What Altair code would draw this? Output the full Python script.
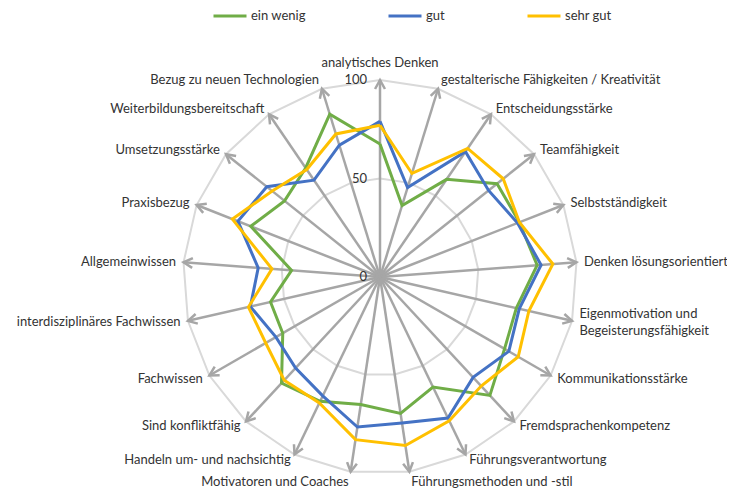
import altair as alt
import pandas as pd

categories = [
    "analytisches Denken",
    "gestalterische Fähigkeiten / Kreativität",
    "Entscheidungsstärke",
    "Teamfähigkeit",
    "Selbstständigkeit",
    "Denken lösungsorientiert",
    "Eigenmotivation und Begeisterungsfähigkeit",
    "Kommunikationsstärke",
    "Fremdsprachenkompetenz",
    "Führungsverantwortung",
    "Führungsmethoden und -stil",
    "Motivatoren und Coaches",
    "Handeln um- und nachsichtig",
    "Sind konfliktfähig",
    "Fachwissen",
    "interdisziplinäres Fachwissen",
    "Allgemeinwissen",
    "Praxisbezug",
    "Umsetzungsstärke",
    "Weiterbildungsbereitschaft",
    "Bezug zu neuen Technologien",
]
ein_wenig = [67.5, 38, 60, 76, 76, 80, 71, 73, 82, 62, 70, 65.5, 70, 73.5, 57, 57, 45, 70.5, 62, 67, 86.5]
gut = [79, 47.5, 77, 70.5, 75, 82, 72.5, 75.5, 69.5, 79.5, 75, 77, 67, 63, 61, 67.5, 62, 77.5, 73.5, 59.5, 70]
sehr_gut = [77, 55, 79, 80, 76, 88, 77.5, 81, 75.5, 81, 86.5, 83.5, 71, 71.5, 67, 68.5, 55, 80.5, 70, 66, 76]

series_names = ["ein wenig", "gut", "sehr gut"]
series_colors = ["#70AD47", "#4472C4", "#FFC000"]
ring_levels = [50, 100]
tick_values = [0, 50, 100]
max_value = 100

n = len(categories)

# --- layout of the plot area (pixels) ---
W, H = 719, 482
CX, CY = 372, 269          # centre of the radar in plot coords
R = 197                    # pixels for max_value
K = R / max_value          # pixels per data unit
x_dom = [-CX / K, (W - CX) / K]
y_dom = [-(H - CY) / K, CY / K]

xs = alt.Scale(domain=x_dom, nice=False, zero=False)
ys = alt.Scale(domain=y_dom, nice=False, zero=False)
FONT = "Lato"
FS = 13
TXT = "#333333"

def X(f):
    return alt.X(f, type="quantitative", scale=xs, axis=None)

def Y(f):
    return alt.Y(f, type="quantitative", scale=ys, axis=None)

ang_expr = f"datum.idx * 2 * PI / {n}"

# series table
rows = []
for name, vals in zip(series_names, [ein_wenig, gut, sehr_gut]):
    for i in range(n + 1):
        rows.append({"series": name, "idx": i, "value": vals[i % n]})
series_df = pd.DataFrame(rows)

ring_rows = []
for lv in ring_levels:
    for i in range(n + 1):
        ring_rows.append({"level": lv, "idx": i})
ring_df = pd.DataFrame(ring_rows)

spoke_df = pd.DataFrame({"idx": list(range(n)), "category": categories})
label_df = pd.DataFrame({
    "idx": list(range(n)),
    "label": [c.replace("und Begeisterungs", "und\nBegeisterungs") for c in categories],
})
tick_df = pd.DataFrame({"value": tick_values, "text": [str(v) for v in tick_values]})

rings = alt.Chart(ring_df).transform_calculate(
    ang=ang_expr,
    x="datum.level * sin(datum.ang)",
    y="datum.level * cos(datum.ang)",
).mark_line(color="#D9D9D9", strokeWidth=2).encode(
    x=X("x"), y=Y("y"), detail="level:N", order="idx:Q"
)

spokes = alt.Chart(spoke_df).transform_calculate(
    ang=ang_expr,
    zero="0",
    x=f"{max_value} * sin(datum.ang)",
    y=f"{max_value} * cos(datum.ang)",
).mark_rule(color="#A6A6A6", strokeWidth=2.5).encode(
    x=X("zero"), y=Y("zero"), x2="x:Q", y2="y:Q"
)

heads = alt.Chart(spoke_df).transform_calculate(
    ang=ang_expr,
    deg=f"datum.idx * 360 / {n}",
    x=f"{max_value} * sin(datum.ang)",
    y=f"{max_value} * cos(datum.ang)",
).mark_point(
    shape="M-0.55,1L0,0L0.55,1", filled=False, stroke="#A6A6A6",
    strokeWidth=2.5, size=324, opacity=1,
).encode(
    x=X("x"), y=Y("y"), angle=alt.Angle("deg:Q", scale=None)
)

color = alt.Color(
    "series:N",
    scale=alt.Scale(domain=series_names, range=series_colors),
    legend=alt.Legend(
        orient="none", legendX=204, legendY=-10, direction="horizontal",
        title=None, symbolType="stroke", symbolSize=1089, symbolStrokeWidth=3,
        labelFont=FONT, labelFontSize=FS, labelColor=TXT, columnPadding=76,
        labelOffset=3,
    ),
)

def series_layer(name):
    return alt.Chart(series_df).transform_filter(
        alt.datum.series == name
    ).transform_calculate(
        ang=ang_expr,
        x="datum.value * sin(datum.ang)",
        y="datum.value * cos(datum.ang)",
    ).mark_line(strokeWidth=3, strokeJoin="miter").encode(
        x=X("x"), y=Y("y"), color=color, order="idx:Q"
    )

lines = [series_layer(s) for s in series_names]

ticks = alt.Chart(tick_df).transform_calculate(zero="0").mark_text(
    align="right", baseline="middle", dx=-13, font=FONT, fontSize=FS, color=TXT
).encode(x=X("zero"), y=Y("value"), text="text:N")

lab_base = alt.Chart(label_df).transform_calculate(
    ang=ang_expr,
    s="sin(datum.ang)",
    c="cos(datum.ang)",
    multi="indexof(datum.label, '\\n') >= 0 ? 1 : 0",
).transform_calculate(
    lx=f"{max_value} * datum.s + (abs(datum.s) > 0.05 ? (1 + 6.5 * abs(datum.s)) * (datum.s > 0 ? 1 : -1) : 0) / {K}",
    ly=(f"{max_value} * datum.c + (6.5 * datum.c + (datum.c > 0 ? 11 : -4.5) * max(0, abs(datum.c) - 0.94) / 0.06"
        f" + datum.multi * 8.5) / {K}"),
)

def label_layer(cond, align):
    return lab_base.transform_filter(cond).mark_text(
        align=align, baseline="middle", font=FONT, fontSize=FS, color=TXT,
        lineBreak="\n", lineHeight=17,
    ).encode(x=X("lx"), y=Y("ly"), text="label:N")

labels = [
    label_layer("datum.s > 0.05", "left"),
    label_layer("datum.s < -0.05", "right"),
    label_layer("abs(datum.s) <= 0.05", "center"),
]

chart = alt.layer(rings, spokes, heads, *lines, ticks, *labels).properties(
    width=W, height=H, autosize=alt.AutoSizeParams(type="none"), padding=0,
).configure_view(stroke=None)

chart.save("out.html", embed_options={"renderer": "svg", "actions": False})
